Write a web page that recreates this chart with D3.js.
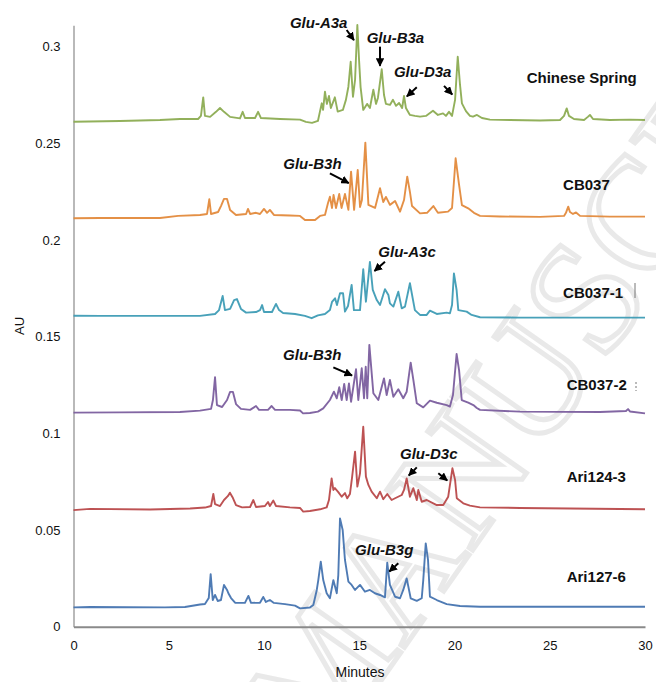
<!DOCTYPE html>
<html><head><meta charset="utf-8">
<script src="https://cdn.jsdelivr.net/npm/d3@7"></script>
<style>
html,body{margin:0;padding:0;background:#fff;}
svg{display:block;}
</style></head>
<body>
<svg id="chart" width="656" height="682"></svg>
<script>
// ---------- DATA ----------
const xTicks = [0, 5, 10, 15, 20, 25, 30];
const yTicks = [0, 0.05, 0.1, 0.15, 0.2, 0.25, 0.3];
const sampleNames = ["Chinese Spring", "CB037", "CB037-1", "CB037-2", "Ari124-3", "Ari127-6"];

const csTime = [0,2.44,4.54,5.59,6.54,6.69,6.81,6.9,7.17,7.48,7.69,7.9,8.22,8.74,8.88,9.0,9.53,9.69,9.84,10.84,11.89,12.2,12.52,12.83,13.03,13.1,13.2,13.3,13.41,13.51,13.72,13.87,14.14,14.3,14.43,14.55,14.67,14.78,14.9,14.99,15.07,15.21,15.41,15.56,15.74,15.88,15.98,16.18,16.3,16.4,16.61,16.77,16.93,17.09,17.25,17.35,17.45,17.66,17.92,18.19,18.5,18.87,19.13,19.4,19.55,19.71,19.87,20.03,20.17,20.29,20.39,20.6,20.81,20.97,21.18,21.44,21.86,22.91,24.49,25.54,25.75,25.89,26.01,26.27,26.8,27.0,27.11,27.27,28.16,29.21,30];
const csAU = [0.2611,0.2615,0.262,0.2625,0.2625,0.2641,0.2737,0.2641,0.2636,0.2662,0.2682,0.2662,0.2636,0.2628,0.2662,0.263,0.263,0.2662,0.263,0.2625,0.2622,0.261,0.2605,0.2615,0.2706,0.2672,0.2766,0.2703,0.2744,0.2682,0.2737,0.2663,0.2672,0.2724,0.2792,0.2921,0.274,0.2827,0.3111,0.293,0.279,0.2672,0.2703,0.2682,0.2776,0.2703,0.2734,0.2882,0.2749,0.2703,0.2698,0.2724,0.2693,0.2708,0.2682,0.2744,0.2682,0.2646,0.2641,0.2637,0.2641,0.2668,0.2646,0.2654,0.2641,0.2662,0.2641,0.2724,0.2947,0.2801,0.2706,0.2666,0.2641,0.2637,0.2646,0.263,0.2622,0.262,0.2617,0.262,0.2641,0.268,0.2641,0.2625,0.262,0.2636,0.2646,0.2625,0.262,0.2622,0.262];

const cb037Time = [0,1.39,4.54,5.49,6.64,7.01,7.13,7.22,7.59,7.74,7.9,8.06,8.22,8.53,9.06,9.16,9.27,9.58,9.79,10.0,10.16,10.31,10.52,11.36,11.89,12.15,12.68,12.94,13.2,13.36,13.46,13.57,13.65,13.78,13.95,14.07,14.25,14.43,14.57,14.73,14.92,15.04,15.14,15.32,15.48,15.83,16.09,16.26,16.4,16.61,16.88,17.14,17.35,17.52,17.66,17.77,18.19,18.56,18.89,19.13,19.66,19.87,20.06,20.24,20.39,20.72,21.02,21.34,22.39,24.49,25.75,25.85,25.97,26.06,26.22,26.38,26.59,28.16,30];
const cb037AU = [0.2112,0.2113,0.2113,0.2124,0.2129,0.2134,0.221,0.2134,0.2144,0.2175,0.2212,0.2212,0.2155,0.2129,0.2134,0.216,0.2134,0.214,0.2134,0.216,0.214,0.2155,0.2129,0.2126,0.2124,0.2103,0.2103,0.2124,0.2129,0.2191,0.2223,0.2165,0.2232,0.2165,0.2237,0.2165,0.2237,0.2155,0.2353,0.2155,0.2361,0.217,0.2206,0.2503,0.2181,0.2165,0.2267,0.2196,0.2222,0.2181,0.2201,0.2146,0.2206,0.2327,0.2248,0.2175,0.2137,0.214,0.2175,0.214,0.2146,0.2165,0.2422,0.2284,0.218,0.2163,0.214,0.2124,0.2121,0.2119,0.2124,0.214,0.2172,0.2144,0.2134,0.2142,0.2124,0.212,0.212];

const cb0371Time = [0,1.39,6.64,7.43,7.64,7.83,7.95,8.22,8.43,8.58,8.79,9.06,9.58,9.79,9.9,10.0,10.42,10.63,10.79,11.0,11.63,12.15,12.5,12.83,13.2,13.46,13.57,13.73,13.83,13.99,14.15,14.25,14.41,14.6,14.72,15.04,15.21,15.35,15.56,15.71,15.92,16.09,16.35,16.53,16.61,16.79,17.05,17.23,17.4,17.66,17.92,18.19,18.54,18.71,19.07,19.59,19.76,19.87,19.97,20.11,20.2,20.64,20.9,21.34,23.44,30];
const cb0371AU = [0.1608,0.1607,0.1607,0.1617,0.1637,0.171,0.1637,0.1643,0.1689,0.1694,0.1643,0.1624,0.1627,0.1637,0.1663,0.1627,0.1627,0.1669,0.1637,0.1622,0.1617,0.1607,0.1595,0.161,0.1617,0.1637,0.1679,0.1698,0.1663,0.1724,0.1724,0.1629,0.1658,0.1767,0.1637,0.1637,0.1848,0.168,0.1886,0.1741,0.1689,0.1663,0.1745,0.1715,0.1672,0.1655,0.1732,0.1646,0.1655,0.1776,0.1637,0.1612,0.1612,0.1634,0.1617,0.1624,0.162,0.1663,0.1827,0.1741,0.1637,0.1629,0.1612,0.16,0.1598,0.1598];

const cb0372Time = [0,2.44,5.59,6.64,7.22,7.32,7.43,7.53,7.8,8.06,8.22,8.37,8.53,8.79,9.27,9.58,9.74,10.21,10.4,10.58,11.36,11.89,12.05,12.41,12.83,13.11,13.46,13.67,13.82,13.95,14.08,14.21,14.34,14.46,14.57,14.83,14.95,15.13,15.25,15.34,15.42,15.53,15.74,16.0,16.3,16.44,16.61,16.79,17.05,17.31,17.49,17.7,17.84,18.02,18.36,18.71,19.07,19.59,19.76,19.92,20.11,20.24,20.38,20.72,20.99,21.17,21.34,23.44,27.64,29.0,29.11,29.21,30];
const cb0372AU = [0.1107,0.1108,0.111,0.1117,0.1126,0.1172,0.129,0.1146,0.1136,0.1172,0.1214,0.1214,0.1151,0.1126,0.1121,0.1141,0.1121,0.1121,0.1141,0.1121,0.1121,0.1118,0.1103,0.1105,0.1112,0.1129,0.1172,0.1215,0.1181,0.1238,0.1172,0.1255,0.1172,0.1258,0.1163,0.1331,0.1172,0.1336,0.1181,0.1344,0.1181,0.1457,0.1207,0.1172,0.1284,0.1198,0.1276,0.1189,0.1228,0.1181,0.1215,0.1365,0.1276,0.1155,0.1134,0.1169,0.1158,0.1146,0.1138,0.1198,0.141,0.1327,0.1172,0.1158,0.1146,0.1131,0.1121,0.1112,0.111,0.1115,0.1125,0.1113,0.1103];

const ari1243Time = [0,0.87,4.02,6.12,6.9,7.22,7.34,7.43,7.69,7.9,8.11,8.21,8.37,8.53,8.85,9.27,9.44,9.58,10.05,10.21,10.31,10.49,10.63,11.36,11.89,12.06,12.41,12.94,13.29,13.41,13.55,13.64,13.72,13.9,14.08,14.25,14.37,14.51,14.62,14.78,14.9,15.04,15.21,15.35,15.48,15.65,15.92,16.09,16.26,16.47,16.7,16.88,17.23,17.35,17.49,17.66,17.84,18.02,18.1,18.28,18.54,19.07,19.41,19.67,19.89,20.03,20.12,20.46,20.81,21.34,23.44,30];
const ari1243AU = [0.0603,0.0609,0.0606,0.0611,0.0616,0.0624,0.0686,0.0634,0.0624,0.0655,0.0676,0.0693,0.0665,0.0629,0.0617,0.0619,0.0655,0.0619,0.0624,0.0645,0.0624,0.0652,0.0624,0.0617,0.0614,0.0595,0.0598,0.0607,0.0617,0.0655,0.0767,0.0707,0.0717,0.0696,0.0672,0.0691,0.0664,0.0686,0.0769,0.0905,0.0724,0.0793,0.1034,0.0776,0.0733,0.0698,0.0664,0.0698,0.0659,0.0686,0.0655,0.0664,0.0681,0.0707,0.0767,0.0672,0.0716,0.0655,0.0707,0.0646,0.0655,0.0629,0.0629,0.0672,0.0819,0.0759,0.0664,0.0638,0.0626,0.0617,0.0614,0.0607];

const ari1276Time = [0,0.87,4.8,5.85,6.64,6.9,7.1,7.2,7.31,7.43,7.57,7.74,7.9,8.06,8.13,8.27,8.48,9.0,9.18,9.32,9.79,9.96,10.1,10.31,10.52,11.1,11.63,11.89,12.41,12.59,12.77,12.85,12.98,13.11,13.29,13.46,13.64,13.82,13.9,13.99,14.13,14.25,14.43,14.6,14.78,15.04,15.3,15.56,15.82,16.09,16.35,16.47,16.61,16.88,17.14,17.31,17.49,17.7,18.02,18.28,18.36,18.49,18.61,18.71,19.07,19.59,20.29,21.34,30];
const ari1276AU = [0.01,0.0102,0.01,0.0102,0.0115,0.0117,0.0148,0.0272,0.0138,0.0164,0.0133,0.0138,0.0216,0.019,0.0173,0.0148,0.0124,0.0123,0.0159,0.0123,0.0124,0.0154,0.0128,0.0138,0.0123,0.0117,0.0109,0.0095,0.0099,0.0112,0.019,0.0241,0.0336,0.0241,0.0173,0.0147,0.0241,0.0173,0.0267,0.056,0.05,0.0345,0.0233,0.0216,0.019,0.0216,0.0181,0.019,0.0173,0.0164,0.0152,0.0331,0.0216,0.0155,0.0147,0.019,0.025,0.0147,0.0134,0.0147,0.0241,0.0431,0.0345,0.0155,0.0138,0.0117,0.0107,0.0103,0.0103];

const seriesTimes = [csTime, cb037Time, cb0371Time, cb0372Time, ari1243Time, ari1276Time];
const seriesValues = [csAU, cb037AU, cb0371AU, cb0372AU, ari1243AU, ari1276AU];
const seriesColors = ["#8cac52", "#e38a3c", "#3e9cb5", "#7b5e9e", "#b9494a", "#4674b0"];

// sample-name label anchors (minutes, AU)
const nameX = [23.79, 25.7, 25.7, 25.89, 25.89, 25.89];
const nameY = [0.281, 0.2258, 0.1698, 0.1224, 0.075, 0.0233];

// gene annotations: text anchors (minutes, AU)
const geneText = ["Glu-A3a", "Glu-B3a", "Glu-D3a", "Glu-B3h", "Glu-A3c", "Glu-B3h", "Glu-D3c", "Glu-B3g"];
const geneX = [11.36, 15.39, 16.82, 11.01, 16.0, 11.0, 17.14, 14.78];
const geneY = [0.3096, 0.302, 0.2844, 0.2365, 0.1913, 0.1379, 0.0866, 0.0371];
// arrows: [t0, v0, t1, v1]
const arrows = [
  [14.34, 0.3085, 14.72, 0.3033],
  [16.09, 0.2999, 16.09, 0.2900],
  [18.02, 0.2789, 17.50, 0.2742],
  [19.45, 0.2796, 19.88, 0.2752],
  [13.46, 0.2344, 14.45, 0.2294],
  [16.35, 0.1887, 15.80, 0.1839],
  [13.64, 0.1341, 14.62, 0.1299],
  [18.02, 0.0824, 17.60, 0.0782],
  [19.15, 0.0793, 19.62, 0.0756],
  [17.05, 0.0328, 16.58, 0.0286]
];

// ---------- CHART ----------
const svg = d3.select("#chart");
const x = d3.scaleLinear().domain([0, 30]).range([73.5, 645]);
const y = d3.scaleLinear().domain([0, 0.311]).range([626.7, 25.2]);

// faint watermark (background)
const clip = svg.append("defs").append("clipPath").attr("id", "wm");
clip.append("rect").attr("x", 0).attr("y", 0).attr("width", 656).attr("height", 682);
svg.append("g").attr("clip-path", "url(#wm)").append("text")
  .attr("transform", "translate(322,765) rotate(-55)")
  .attr("font-family", "Liberation Serif, serif")
  .attr("font-size", 160)
  .attr("fill", "none")
  .attr("stroke", "#e9e9e9")
  .attr("stroke-width", 5)
  .text("MANUSCRIPT");

// axes
const yAxis = d3.axisLeft(y).tickValues(yTicks).tickSize(0).tickPadding(13)
  .tickFormat(d => d3.format("")(+d.toFixed(2)));
const gy = svg.append("g").attr("transform", `translate(${x(0)},0)`).call(yAxis);
gy.select(".domain").attr("stroke", "#8a8a8a").attr("stroke-width", 1.2);
gy.selectAll("text").attr("font-family", "Liberation Sans, Arial, sans-serif").attr("font-size", 13).attr("fill", "#111");

const xAxis = d3.axisBottom(x).tickValues(xTicks).tickSize(0).tickPadding(14);
const gx = svg.append("g").attr("transform", `translate(0,${y(0)})`).call(xAxis);
gx.select(".domain").attr("stroke", "#8a8a8a").attr("stroke-width", 2);
gx.selectAll("text").attr("font-family", "Liberation Sans, Arial, sans-serif").attr("font-size", 13).attr("fill", "#111");

svg.append("text").attr("x", 360).attr("y", 677).attr("text-anchor", "middle")
  .attr("font-family", "Liberation Sans, Arial, sans-serif").attr("font-size", 14).attr("fill", "#111").text("Minutes");
svg.append("text").attr("transform", "translate(24,326) rotate(-90)").attr("text-anchor", "middle")
  .attr("font-family", "Liberation Sans, Arial, sans-serif").attr("font-size", 13).attr("fill", "#111").text("AU");

// traces
const line = d3.line().x(d => x(d[0])).y(d => y(d[1]));
seriesTimes.forEach((ts, i) => {
  const pts = ts.map((t, j) => [t, seriesValues[i][j]]);
  svg.append("path").datum(pts).attr("d", line)
    .attr("fill", "none").attr("stroke", seriesColors[i])
    .attr("stroke-width", 1.9).attr("stroke-linejoin", "round").attr("opacity", 0.95);
});

// sample names
sampleNames.forEach((n, i) => {
  svg.append("text").attr("x", x(nameX[i])).attr("y", y(nameY[i]))
    .attr("font-family", "Liberation Sans, Arial, sans-serif").attr("font-weight", "bold")
    .attr("font-size", 15).attr("fill", "#111").text(n);
});

// gene labels
geneText.forEach((g, i) => {
  svg.append("text").attr("x", x(geneX[i])).attr("y", y(geneY[i]))
    .attr("font-family", "Liberation Sans, Arial, sans-serif").attr("font-weight", "bold")
    .attr("font-style", "italic").attr("font-size", 15).attr("fill", "#111").text(g);
});

// arrow marker
svg.select("defs").append("marker").attr("id", "ah")
  .attr("viewBox", "0 0 10 10").attr("refX", 9).attr("refY", 5)
  .attr("markerWidth", 4.2).attr("markerHeight", 4.2).attr("orient", "auto")
  .append("path").attr("d", "M0,0L10,5L0,10Z").attr("fill", "#000");

arrows.forEach(a => {
  svg.append("line").attr("x1", x(a[0])).attr("y1", y(a[1])).attr("x2", x(a[2])).attr("y2", y(a[3]))
    .attr("stroke", "#000").attr("stroke-width", 2).attr("marker-end", "url(#ah)");
});

// small stray marks next to two labels
svg.append("line").attr("x1", 635).attr("x2", 635).attr("y1", 283).attr("y2", 298).attr("stroke", "#777").attr("stroke-width", 1);
svg.append("line").attr("x1", 636).attr("x2", 636).attr("y1", 382).attr("y2", 391).attr("stroke", "#777").attr("stroke-width", 1).attr("stroke-dasharray", "2,2");
</script>
</body></html>
